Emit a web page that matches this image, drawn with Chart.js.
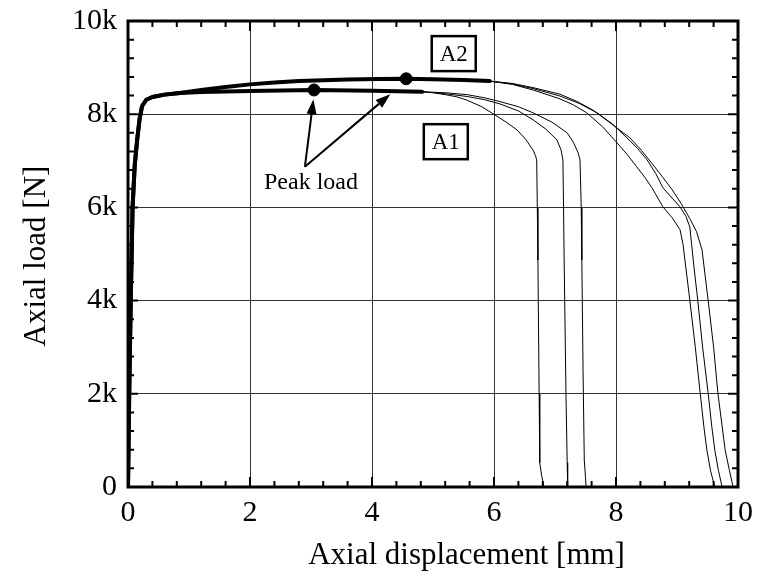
<!DOCTYPE html>
<html>
<head>
<meta charset="utf-8">
<script src="https://cdn.jsdelivr.net/npm/chart.js@4"></script>
<style>
  html, body { margin: 0; padding: 0; background: #fff; }
  #loadChart { display: block; }
</style>
</head>
<body>
<canvas id="loadChart" width="758" height="576"></canvas>
<script>
'use strict'

// initial elastic rise, shared by both groups
var riseDisp = [0, 0.02, 0.045, 0.075, 0.11, 0.15, 0.19, 0.23, 0.3, 0.4, 0.6, 0.85];
var riseLoad = [0, 2000, 4000, 6000, 6900, 7450, 7900, 8170, 8310, 8370, 8420, 8455];

// averaged A1 / A2 curves up to where the specimens split (thick)
var a1Disp = [1.2, 2.0, 3.05, 4.0, 4.82];
var a1Load = [8475, 8500, 8520, 8505, 8480];
var a2Disp = [1.2, 1.6, 2.0, 2.4, 2.8, 3.2, 3.6, 4.1, 4.56, 5.0, 5.5, 5.93];
var a2Load = [8520, 8585, 8640, 8680, 8710, 8730, 8745, 8755, 8760, 8750, 8735, 8710];

// individual specimens after the split (thin)
var a1aDisp = [4.82, 5.0, 5.2, 5.4, 5.56, 5.8, 6.02, 6.2, 6.38, 6.52, 6.64, 6.68, 6.70, 6.71, 6.72, 6.74, 6.75, 6.78, 6.82];
var a1aLoad = [8480, 8460, 8420, 8370, 8300, 8160, 7980, 7830, 7660, 7460, 7230, 7110, 7020, 6000, 4870, 2000, 520, 250, 0];
var a1bDisp = [4.82, 5.0, 5.2, 5.56, 5.85, 6.10, 6.4, 6.64, 6.85, 7.03, 7.10, 7.13, 7.14, 7.15, 7.18, 7.20, 7.205, 7.21];
var a1bLoad = [8480, 8465, 8440, 8380, 8310, 8220, 8070, 7880, 7680, 7450, 7230, 7020, 6000, 4870, 2000, 520, 200, 0];
var a1cDisp = [4.82, 5.2, 5.56, 5.85, 6.10, 6.4, 6.64, 6.95, 7.20, 7.30, 7.38, 7.41, 7.43, 7.44, 7.46, 7.48, 7.50, 7.51];
var a1cLoad = [8480, 8460, 8420, 8350, 8270, 8160, 8030, 7830, 7600, 7400, 7170, 7020, 6000, 4870, 2500, 580, 200, 0];

var a2aDisp = [5.93, 6.3, 6.64, 7.08, 7.35, 7.62, 7.95, 8.23, 8.42, 8.61, 8.77, 8.92, 9.07, 9.21, 9.32, 9.41, 9.51, 9.6, 9.67, 9.74, 9.79, 9.86, 9.92];
var a2aLoad = [8710, 8660, 8570, 8430, 8280, 8090, 7770, 7490, 7220, 6910, 6640, 6380, 6080, 5760, 5480, 5090, 4010, 3000, 2020, 1300, 790, 350, 0];
var a2bDisp = [5.93, 6.3, 6.64, 7.08, 7.4, 7.69, 7.95, 8.18, 8.35, 8.51, 8.65, 8.77, 8.92, 9.05, 9.15, 9.21, 9.24, 9.28, 9.34, 9.42, 9.51, 9.57, 9.62, 9.68, 9.74];
var a2bLoad = [8710, 8650, 8550, 8390, 8230, 8030, 7780, 7490, 7270, 7020, 6730, 6420, 6200, 6010, 5800, 5580, 5200, 4700, 4010, 3000, 2020, 1300, 790, 350, 0];
var a2cDisp = [5.93, 6.3, 6.64, 7.08, 7.3, 7.52, 7.78, 8.02, 8.18, 8.34, 8.47, 8.59, 8.77, 8.92, 9.05, 9.10, 9.13, 9.21, 9.30, 9.38, 9.44, 9.49, 9.55, 9.62];
var a2cLoad = [8710, 8640, 8520, 8330, 8200, 8030, 7730, 7380, 7140, 6870, 6650, 6420, 6010, 5780, 5520, 5200, 4870, 4010, 3000, 2020, 1300, 790, 350, 0];

// peak load points
var peakDisp = [3.05, 4.56];
var peakLoad = [8520, 8760];

var xTickLabels = ['0', '2', '4', '6', '8', '10'];
var yTickLabels = ['0', '2k', '4k', '6k', '8k', '10k'];

var serif = "'Liberation Serif', 'Times New Roman', serif";

function toPoints(xs, ys) {
  return xs.map(function (x, i) { return { x: x, y: ys[i] }; });
}

function curve(xs, ys, width) {
  return {
    data: toPoints(xs, ys),
    showLine: true,
    borderColor: '#000',
    borderWidth: width,
    borderJoinStyle: 'round',
    borderCapStyle: 'round',
    pointRadius: 0,
    tension: 0,
    fill: false
  };
}

function arrow(ctx, x0, y0, x1, y1) {
  var ang = Math.atan2(y1 - y0, x1 - x0);
  var len = 15, half = 5;
  var bx = x1 - len * Math.cos(ang), by = y1 - len * Math.sin(ang);
  ctx.beginPath();
  ctx.moveTo(x0, y0);
  ctx.lineTo(bx, by);
  ctx.stroke();
  ctx.beginPath();
  ctx.moveTo(x1, y1);
  ctx.lineTo(bx + half * Math.sin(ang), by - half * Math.cos(ang));
  ctx.lineTo(bx - half * Math.sin(ang), by + half * Math.cos(ang));
  ctx.closePath();
  ctx.fill();
}

function labelBox(ctx, cx, cy, text) {
  var w = 44, h = 35;
  ctx.lineWidth = 2.5;
  ctx.strokeRect(cx - w / 2, cy - h / 2, w, h);
  ctx.font = '23px ' + serif;
  ctx.textAlign = 'center';
  ctx.textBaseline = 'middle';
  ctx.fillText(text, cx, cy + 1);
}

// frame, inward ticks, axis titles and the notes on the plot
var decorations = {
  id: 'decorations',
  afterDraw: function (chart) {
    var ctx = chart.ctx;
    var a = chart.chartArea;
    var xs = chart.scales.x, ys = chart.scales.y;
    ctx.save();
    ctx.strokeStyle = '#000';
    ctx.fillStyle = '#000';

    // ticks every 0.4 mm / 400 N, longer at labelled values
    ctx.lineWidth = 2;
    var i, p, len;
    for (i = 0; i <= 25; i++) {
      p = xs.getPixelForValue(i * 0.4);
      len = (i % 5 === 0) ? 10 : 6;
      ctx.beginPath();
      ctx.moveTo(p, a.bottom); ctx.lineTo(p, a.bottom - len);
      ctx.moveTo(p, a.top); ctx.lineTo(p, a.top + len);
      ctx.stroke();
    }
    for (i = 0; i <= 25; i++) {
      p = ys.getPixelForValue(i * 400);
      len = (i % 5 === 0) ? 10 : 6;
      ctx.beginPath();
      ctx.moveTo(a.left, p); ctx.lineTo(a.left + len, p);
      ctx.moveTo(a.right, p); ctx.lineTo(a.right - len, p);
      ctx.stroke();
    }

    ctx.lineWidth = 3;
    ctx.strokeRect(a.left, a.top, a.right - a.left, a.bottom - a.top);

    // axis titles
    ctx.font = '31px ' + serif;
    ctx.textAlign = 'center';
    ctx.textBaseline = 'alphabetic';
    ctx.fillText('Axial displacement [mm]', xs.getPixelForValue(5.55), 564);
    ctx.save();
    ctx.translate(45, (a.top + a.bottom) / 2 + 2);
    ctx.rotate(-Math.PI / 2);
    ctx.fillText('Axial load [N]', 0, 0);
    ctx.restore();

    // peak load arrows
    ctx.lineWidth = 2;
    var sx = xs.getPixelForValue(2.90), sy = ys.getPixelForValue(6870);
    arrow(ctx, sx, sy, xs.getPixelForValue(3.04), ys.getPixelForValue(8320));
    arrow(ctx, sx, sy, xs.getPixelForValue(4.30), ys.getPixelForValue(8430));
    ctx.font = '24px ' + serif;
    ctx.textAlign = 'center';
    ctx.textBaseline = 'middle';
    ctx.fillText('Peak load', xs.getPixelForValue(3.0), ys.getPixelForValue(6530));

    labelBox(ctx, xs.getPixelForValue(5.34), ys.getPixelForValue(9300), 'A2');
    labelBox(ctx, xs.getPixelForValue(5.21), ys.getPixelForValue(7410), 'A1');
    ctx.restore();
  }
};

function renderChart() {
  var ctx = document.getElementById('loadChart').getContext('2d');
  var chart = new Chart(ctx, {
    type: 'scatter',
    data: {
      datasets: [
        curve(a1aDisp, a1aLoad, 1),
        curve(a1bDisp, a1bLoad, 1),
        curve(a1cDisp, a1cLoad, 1),
        curve(a2aDisp, a2aLoad, 1),
        curve(a2bDisp, a2bLoad, 1),
        curve(a2cDisp, a2cLoad, 1),
        curve(riseDisp.concat(a1Disp), riseLoad.concat(a1Load), 4),
        curve(riseDisp.concat(a2Disp), riseLoad.concat(a2Load), 4),
        {
          data: toPoints(peakDisp, peakLoad),
          showLine: false,
          pointRadius: 6,
          pointBackgroundColor: '#000',
          pointBorderColor: '#000'
        }
      ]
    },
    options: {
      responsive: false,
      animation: false,
      layout: { padding: { left: 0, right: 20, top: 21, bottom: 0 } },
      plugins: {
        legend: { display: false },
        tooltip: { enabled: false }
      },
      scales: {
        x: {
          type: 'linear',
          min: 0,
          max: 10,
          afterFit: function (scale) {
            scale.height = 89;
            scale.paddingLeft = 0;
            scale.paddingRight = 0;
          },
          ticks: {
            stepSize: 2,
            padding: 8,
            color: '#000',
            font: { family: serif, size: 30 },
            callback: function (v, i) { return xTickLabels[i]; }
          },
          grid: { color: '#333', lineWidth: 1, drawTicks: false },
          border: { display: false }
        },
        y: {
          type: 'linear',
          min: 0,
          max: 10000,
          afterFit: function (scale) {
            scale.width = 128;
            scale.paddingTop = 0;
            scale.paddingBottom = 0;
          },
          ticks: {
            stepSize: 2000,
            padding: 11,
            color: '#000',
            font: { family: serif, size: 30 },
            callback: function (v, i) { return yTickLabels[i]; }
          },
          grid: { color: '#333', lineWidth: 1, drawTicks: false },
          border: { display: false }
        }
      }
    },
    plugins: [decorations]
  });
}

renderChart();
</script>
</body>
</html>
